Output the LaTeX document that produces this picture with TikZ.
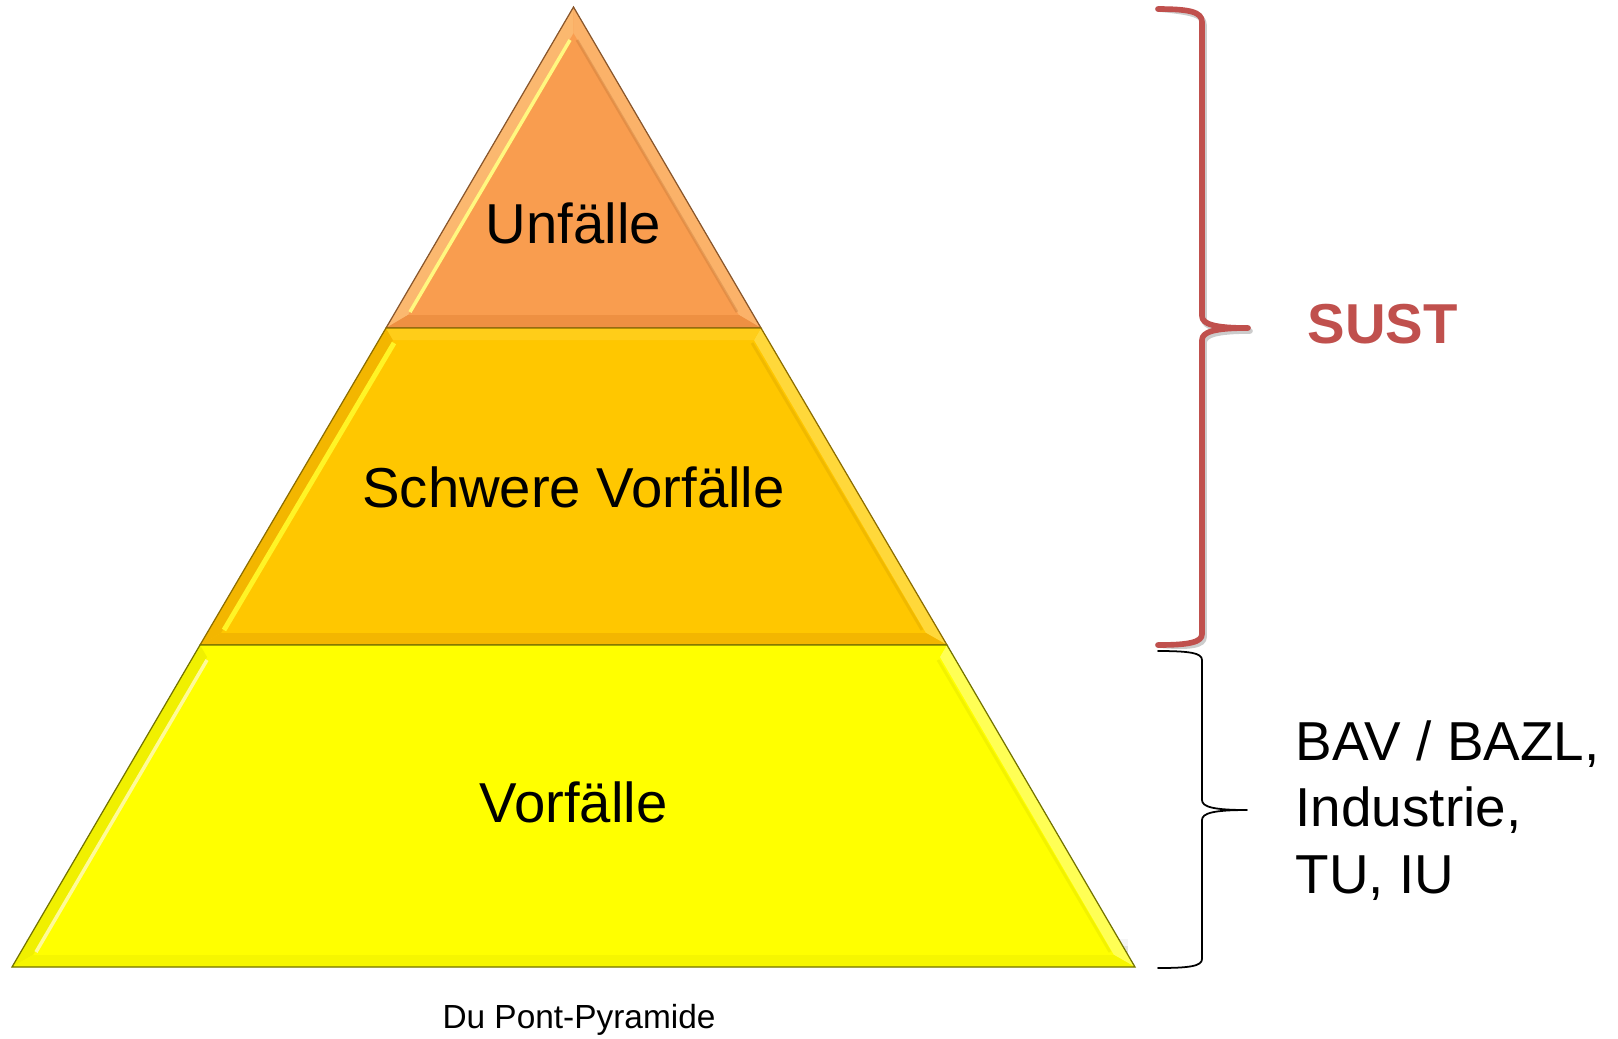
\documentclass[tikz,border=0pt]{standalone}
\usepackage{fontspec}
\setmainfont{Liberation Sans}
\usetikzlibrary{positioning}
\definecolor{topOrange}{HTML}{F99D4F}
\definecolor{topOrangeLight}{HTML}{FBB86F}
\definecolor{topOrangeDark}{HTML}{EE9042}
\definecolor{midGold}{HTML}{FFC700}
\definecolor{midGoldLight}{HTML}{FFD83A}
\definecolor{midGoldDark}{HTML}{F3B600}
\definecolor{baseYellow}{HTML}{FFFF00}
\definecolor{baseYellowLight}{HTML}{FFFF55}
\definecolor{baseYellowDark}{HTML}{F0F000}
\definecolor{sustRed}{HTML}{C0504D}
\tikzset
{
    tier/.style = {draw=#1, line width=0.35pt},
    tierlabel/.style = {anchor=base, font=\fontsize{16}{19}\selectfont},
    bracket/.style = {line cap=round, line join=round},
    arrow/.style={thick, ->, >=stealth}
}

\begin{document}
\begin{tikzpicture}[x=0.01cm, y=-0.01cm]
\useasboundingbox (0,0) rectangle (1618,1038);
% outer corners of the pyramid
\coordinate (apex) at (573.5,7);
\coordinate (l1) at (386,328);
\coordinate (r1) at (761,328);
\coordinate (l2) at (200,645);
\coordinate (r2) at (947,645);
\coordinate (l3) at (12,967);
\coordinate (r3) at (1135,967);
% shadow under the base
\foreach \s/\o in {2/0.25,4/0.15,6/0.08,8/0.04}
  \fill[black, opacity=\o] ([xshift=4]l3) -- ([xshift=-2]r3) -- ([xshift=-2,yshift=\s]r3) -- ([xshift=4,yshift=\s]l3) -- cycle;
% top tier
\fill[topOrange] (apex) -- (l1) -- (r1) -- cycle;
\fill[topOrangeLight] (apex) -- (l1) -- (408,315) -- (573.5,33) -- cycle;
\fill[topOrangeLight!80!topOrange] (apex) -- (r1) -- (739,315) -- (573.5,33) -- cycle;
\fill[topOrangeDark] (l1) -- (r1) -- (739,315) -- (408,315) -- cycle;
\draw[yellow!50!white, line width=1pt] (570,40) -- (410,312);
\draw[topOrangeDark!80!black, opacity=.35, line width=0.8pt] (577,40) -- (737,312);
\draw[tier=topOrange!55!black] (apex) -- (l1) -- (r1) -- cycle;
% middle tier
\fill[midGold] (l1) -- (r1) -- (r2) -- (l2) -- cycle;
\fill[midGoldDark] (l1) -- (l2) -- (221,633) -- (393,340) -- cycle;
\fill[midGoldLight] (r1) -- (r2) -- (926,633) -- (754,340) -- cycle;
\fill[midGoldDark] (l2) -- (r2) -- (926,633) -- (221,633) -- cycle;
\fill[midGold!90!white] (l1) -- (r1) -- (754,340) -- (393,340) -- cycle;
\draw[yellow!85!white, line width=1.4pt] (394,343) -- (224,630);
\draw[midGoldDark!85!black, opacity=.3, line width=0.8pt] (752,343) -- (922,630);
\draw[tier=midGold!55!black] (l1) -- (r1) -- (r2) -- (l2) -- cycle;
% bottom tier
\fill[baseYellow] (l2) -- (r2) -- (r3) -- (l3) -- cycle;
\fill[baseYellowDark] (l2) -- (l3) -- (33,955) -- (207,657) -- cycle;
\fill[baseYellowLight] (r2) -- (r3) -- (1114,955) -- (940,657) -- cycle;
\fill[baseYellowDark!60!baseYellow] (l3) -- (r3) -- (1114,955) -- (33,955) -- cycle;
\draw[yellow!40!white, line width=1pt] (207,660) -- (36,952);
\draw[baseYellowDark!80!black, opacity=.2, line width=0.8pt] (938,660) -- (1110,952);
\draw[tier=baseYellow!45!black] (l2) -- (r2) -- (r3) -- (l3) -- cycle;
% labels
\node (unfaelle) [tierlabel] at (573.5,243) {Unfälle};
\node (schwer) [tierlabel] at (573.5,507) {Schwere Vorfälle};
\node (vorfaelle) [tierlabel] at (573.5,822) {Vorfälle};
\node (caption) [anchor=base, font=\fontsize{9.5}{11}\selectfont] at (579,1028) {Du Pont-Pyramide};
% braces
\coordinate (sustTop) at (1158,9);
\coordinate (sustTip) at (1248,328);
\coordinate (sustBot) at (1158,645);
\coordinate (bavTop) at (1158,651);
\coordinate (bavTip) at (1247,810);
\coordinate (bavBot) at (1158,968);
\draw[bracket, black, opacity=.2, line width=1.6pt, shift={(2,3)}]
  (sustTop) .. controls (1190,9) and (1202,12) .. (1202,22) -- (1202,316)
  .. controls (1202,324) and (1214,328) .. (sustTip)
  (1248,328) .. controls (1214,328) and (1202,332) .. (1202,340) -- (1202,634)
  .. controls (1202,642) and (1190,645) .. (sustBot);
\draw[bracket, sustRed, line width=1.6pt]
  (sustTop) .. controls (1190,9) and (1202,12) .. (1202,22) -- (1202,316)
  .. controls (1202,324) and (1214,328) .. (sustTip)
  (sustTip) .. controls (1214,328) and (1202,332) .. (1202,340) -- (1202,634)
  .. controls (1202,642) and (1190,645) .. (sustBot);
\draw[bracket, black, line width=0.5pt]
  (bavTop) .. controls (1190,651) and (1202,653) .. (1202,660) -- (1202,800)
  .. controls (1202,807) and (1214,810) .. (bavTip)
  (bavTip) .. controls (1214,810) and (1202,813) .. (1202,820) -- (1202,959)
  .. controls (1202,966) and (1190,968) .. (bavBot);
\node (sust) [anchor=base west, inner sep=0pt, text=sustRed, font=\fontsize{16}{19}\selectfont\bfseries] at (1307,343) {SUST};
\node (bav) [anchor=base west, inner sep=0pt, align=left, font=\fontsize{15.6}{18.8}\selectfont] at (1295,893) {BAV / BAZL,\\Industrie,\\TU, IU};
\end{tikzpicture}
\end{document}
